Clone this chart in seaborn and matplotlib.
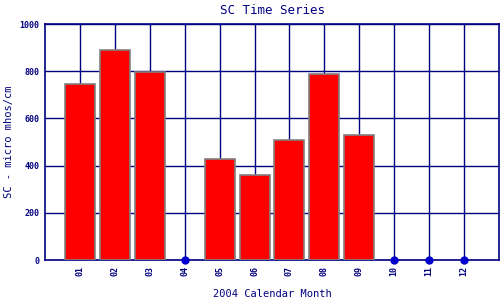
import matplotlib
matplotlib.use("Agg")
import matplotlib.pyplot as plt
import seaborn as sns
import pandas as pd
import numpy as np

months = ["01", "02", "03", "04", "05", "06", "07", "08", "09", "10", "11", "12"]
sc_values = [744, 888, 797, np.nan, 427, 360, 507, 787, 530, np.nan, np.nan, np.nan]
yticks = [0, 200, 400, 600, 800, 1000]

navy = "#000080"
sns.set_style("white")
plt.rcParams["font.family"] = ["DejaVu Sans Mono", "DejaVu Sans"]

df = pd.DataFrame({"month": months, "sc": sc_values})
missing = df[df["sc"].isna()].assign(sc=0.0)

fig = plt.figure(figsize=(5, 3), dpi=100)
ax = fig.add_axes([0.09, 0.1333, 0.908, 0.7867])

sns.barplot(data=df, x="month", y="sc", order=months, ax=ax, color="#ff0000",
            saturation=1, width=0.86, edgecolor="#808080", linewidth=1.2, zorder=3)
sns.stripplot(data=missing, x="month", y="sc", order=months, ax=ax, jitter=False,
              color="#0000cc", size=6, linewidth=0, zorder=5, clip_on=False)

ax.set_xlim(-1, 12)
ax.set_ylim(0, 1000)
ax.set_yticks(yticks)
ax.set_yticklabels([str(v) for v in yticks])
ax.set_axisbelow(True)
ax.grid(True, color=navy, linewidth=1)
for s in ax.spines.values():
    s.set_color(navy)
    s.set_linewidth(1.2)
ax.tick_params(axis="both", length=0, colors=navy)
ax.tick_params(axis="x", labelrotation=90, labelsize=6, pad=4)
ax.tick_params(axis="y", labelsize=6, pad=4)
for lab in ax.get_yticklabels() + ax.get_xticklabels():
    lab.set_fontweight("bold")

ax.set_title("SC Time Series", color=navy, fontsize=9, pad=7)
ax.set_xlabel("2004 Calendar Month", color=navy, fontsize=7.5, labelpad=10)
ax.set_ylabel("SC - micro mhos/cm", color=navy, fontsize=7.5, labelpad=4)

fig.savefig("out.png", dpi=100)
